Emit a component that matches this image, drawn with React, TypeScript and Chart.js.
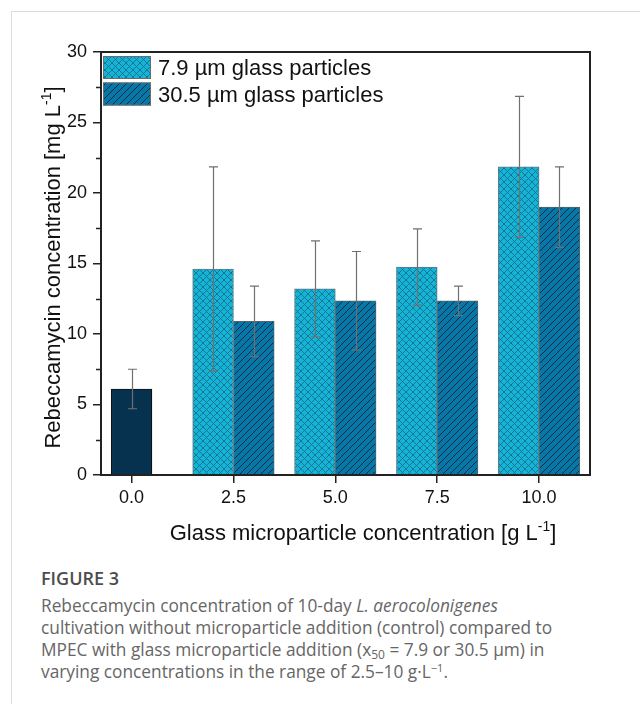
import React, { useEffect, useRef } from "react";
import { Chart, registerables } from "chart.js";

Chart.register(...registerables);

// ---- data ----
const xTickValues = [0, 2.5, 5, 7.5, 10];
const yTickValues = [0, 5, 10, 15, 20, 25, 30];
const yMinorTickValues = [2.5, 7.5, 12.5, 17.5, 22.5, 27.5];

const controlConcentration = [0];
const controlValues = [6.1];
const controlErrors = [1.4];

const concentrations = [2.5, 5.0, 7.5, 10.0];
const fineValues = [14.6, 13.2, 14.75, 21.85];
const fineErrors = [7.25, 3.4, 2.7, 5.0];
const coarseValues = [10.9, 12.35, 12.35, 19.0];
const coarseErrors = [2.5, 3.5, 1.05, 2.85];

const controlLabel = "Control";
const seriesLabels = ["7.9 µm glass particles", "30.5 µm glass particles"];
const xTitle = "Glass microparticle concentration [g L";
const yTitle = "Rebeccamycin concentration [mg L";
const unitSup = "-1";

const FONT = '"Liberation Sans", Arial, sans-serif';

function makeCrossHatch(bg: string, line: string) {
  const s = 7;
  const c = document.createElement("canvas");
  c.width = s;
  c.height = s;
  const g = c.getContext("2d")!;
  g.fillStyle = bg;
  g.fillRect(0, 0, s, s);
  g.strokeStyle = line;
  g.lineWidth = 0.9;
  g.beginPath();
  for (const k of [-s, 0, s]) {
    g.moveTo(k, 0);
    g.lineTo(k + s, s);
    g.moveTo(k, s);
    g.lineTo(k + s, 0);
  }
  g.stroke();
  return g.createPattern(c, "repeat")!;
}

function makeHatch(bg: string, line: string) {
  const s = 7;
  const c = document.createElement("canvas");
  c.width = s;
  c.height = s;
  const g = c.getContext("2d")!;
  g.fillStyle = bg;
  g.fillRect(0, 0, s, s);
  g.strokeStyle = line;
  g.lineWidth = 1;
  g.beginPath();
  for (const k of [-s, 0, s]) {
    g.moveTo(k, s);
    g.lineTo(k + s, 0);
  }
  g.stroke();
  return g.createPattern(c, "repeat")!;
}

const datasetErrors = [controlErrors, fineErrors, coarseErrors];
const datasetValues = [controlValues, fineValues, coarseValues];

const errorBarPlugin = {
  id: "errorBars",
  afterDatasetsDraw(chart: any) {
    const { ctx } = chart;
    const yScale = chart.scales.y;
    ctx.save();
    ctx.strokeStyle = "#707070";
    ctx.lineWidth = 1.2;
    chart.data.datasets.forEach((_: any, di: number) => {
      const meta = chart.getDatasetMeta(di);
      meta.data.forEach((bar: any, j: number) => {
        const v = datasetValues[di][j];
        const e = datasetErrors[di][j];
        const x = Math.round(bar.x) + 0.5;
        const yt = yScale.getPixelForValue(v + e);
        const yb = yScale.getPixelForValue(v - e);
        ctx.beginPath();
        ctx.moveTo(x, yt);
        ctx.lineTo(x, yb);
        ctx.moveTo(x - 4.5, yt);
        ctx.lineTo(x + 4.5, yt);
        ctx.moveTo(x - 4.5, yb);
        ctx.lineTo(x + 4.5, yb);
        ctx.stroke();
      });
    });
    ctx.restore();
  },
};

function drawSupText(ctx: CanvasRenderingContext2D, main: string, sup: string, end: string, size: number) {
  ctx.font = `${size}px ${FONT}`;
  const w1 = ctx.measureText(main).width;
  const w3 = ctx.measureText(end).width;
  ctx.font = `${Math.round(size * 0.65)}px ${FONT}`;
  const w2 = ctx.measureText(sup).width;
  const total = w1 + w2 + w3;
  let x = -total / 2;
  ctx.textAlign = "left";
  ctx.textBaseline = "alphabetic";
  const base = size * 0.36;
  ctx.font = `${size}px ${FONT}`;
  ctx.fillText(main, x, base);
  x += w1;
  ctx.font = `${Math.round(size * 0.65)}px ${FONT}`;
  ctx.fillText(sup, x, base - size * 0.42);
  x += w2;
  ctx.font = `${size}px ${FONT}`;
  ctx.fillText(end, x, base);
}

const framePlugin = {
  id: "frameAndTitles",
  afterDraw(chart: any) {
    const { ctx, chartArea } = chart;
    const yScale = chart.scales.y;
    ctx.save();
    // minor ticks
    ctx.strokeStyle = "#222";
    ctx.lineWidth = 1.5;
    ctx.beginPath();
    yMinorTickValues.forEach((v) => {
      const y = Math.round(yScale.getPixelForValue(v)) + 0.5;
      ctx.moveTo(chartArea.left - 5, y);
      ctx.lineTo(chartArea.left, y);
    });
    ctx.stroke();
    // frame
    ctx.lineWidth = 2;
    ctx.strokeStyle = "#222";
    ctx.strokeRect(chartArea.left, chartArea.top, chartArea.right - chartArea.left, chartArea.bottom - chartArea.top);

    // legend
    [1, 2].forEach((di, k) => {
      const ds = chart.data.datasets[di];
      const x = chartArea.left + 2;
      const y = chartArea.top + 4 + k * 26.5;
      const w = 48;
      const h = 23;
      ctx.fillStyle = ds.backgroundColor;
      ctx.fillRect(x, y, w, h);
      ctx.strokeStyle = "#6b6b6b";
      ctx.lineWidth = 1;
      ctx.strokeRect(x + 0.5, y + 0.5, w - 1, h - 1);
      ctx.fillStyle = "#111";
      ctx.font = `22px ${FONT}`;
      ctx.textAlign = "left";
      ctx.textBaseline = "alphabetic";
      ctx.fillText(ds.label, x + w + 7, y + 19);
    });

    // axis titles
    ctx.fillStyle = "#111";
    ctx.save();
    ctx.translate(363, 532);
    drawSupText(ctx, xTitle, unitSup, "]", 22);
    ctx.restore();
    ctx.save();
    ctx.translate(52, (chartArea.top + chartArea.bottom) / 2 + 4);
    ctx.rotate(-Math.PI / 2);
    drawSupText(ctx, yTitle, unitSup, "]", 22);
    ctx.restore();
    ctx.restore();
  },
};

export default function App() {
  const ref = useRef<HTMLCanvasElement | null>(null);

  useEffect(() => {
    const canvas = ref.current;
    if (!canvas) return;
    const fineP = makeCrossHatch("#12b5d8", "#1a6e8a");
    const coarseP = makeHatch("#0677a6", "#0c2b42");

    const chart = new Chart(canvas, {
      type: "bar",
      data: {
        datasets: [
          {
            label: controlLabel,
            data: controlConcentration.map((x, i) => ({ x, y: controlValues[i] })),
            backgroundColor: "#06324f",
            borderColor: "#111",
            borderWidth: 1.2,
          },
          {
            label: seriesLabels[0],
            data: concentrations.map((c, i) => ({ x: c - 0.5, y: fineValues[i] })),
            backgroundColor: fineP,
            borderColor: "#667a84",
            borderWidth: 1,
          },
          {
            label: seriesLabels[1],
            data: concentrations.map((c, i) => ({ x: c + 0.5, y: coarseValues[i] })),
            backgroundColor: coarseP,
            borderColor: "#55656e",
            borderWidth: 1,
          },
        ] as any,
      },
      options: {
        animation: false,
        responsive: false,
        events: [],
        layout: { padding: { left: 0, top: 52, right: 50, bottom: 0 } },
        datasets: { bar: { grouped: false, barPercentage: 1, categoryPercentage: 1 } } as any,
        plugins: { legend: { display: false }, tooltip: { enabled: false } },
        scales: {
          x: {
            type: "linear",
            min: -0.75,
            max: 11.25,
            offset: false,
            afterBuildTicks: (axis: any) => {
              axis.ticks = xTickValues.map((value) => ({ value }));
            },
            afterFit: (axis: any) => {
              axis.height = 85;
            },
            ticks: {
              callback: (v: any) => Number(v).toFixed(1),
              font: { family: FONT, size: 18 },
              color: "#111",
              padding: 4,
              maxRotation: 0,
              autoSkip: false,
            },
            grid: {
              display: true,
              drawOnChartArea: false,
              drawTicks: true,
              tickLength: 8,
              offset: false,
              color: "#222",
              lineWidth: 1.5,
            },
            border: { display: false },
          },
          y: {
            type: "linear",
            min: 0,
            max: 30,
            afterBuildTicks: (axis: any) => {
              axis.ticks = yTickValues.map((value) => ({ value }));
            },
            afterFit: (axis: any) => {
              axis.width = 101;
            },
            ticks: {
              callback: (v: any) => String(v),
              font: { family: FONT, size: 18 },
              color: "#111",
              padding: 6,
            },
            grid: {
              display: true,
              drawOnChartArea: false,
              drawTicks: true,
              tickLength: 8,
              color: "#222",
              lineWidth: 1.5,
            },
            border: { display: false },
          },
        } as any,
      },
      plugins: [errorBarPlugin, framePlugin],
    });
    return () => chart.destroy();
  }, []);

  const capFont = '"Open Sans", "Noto Sans", sans-serif';
  return (
    <div style={{ position: "absolute", left: 0, top: 0, width: 640, height: 704, background: "#fff", overflow: "hidden" }}>
      <div
        style={{
          position: "absolute",
          left: 11,
          top: 11,
          right: -2,
          bottom: -2,
          borderTop: "1.5px solid #dcdcdc",
          borderLeft: "1.5px solid #dcdcdc",
        }}
      />
      <canvas ref={ref} width={640} height={560} style={{ position: "absolute", left: 0, top: 0 }} />
      <div
        style={{
          position: "absolute",
          left: 41,
          top: 567,
          fontFamily: capFont,
          color: "#666",
          fontSize: 17.3,
          lineHeight: "22px",
          whiteSpace: "nowrap",
        }}
      >
        <div style={{ fontWeight: 600, fontSize: 18, color: "#4d4d4d", marginBottom: 6 }}>FIGURE 3</div>
        <div>
          Rebeccamycin concentration of 10-day <i>L. aerocolonigenes</i>
        </div>
        <div>cultivation without microparticle addition (control) compared to</div>
        <div>
          MPEC with glass microparticle addition (x
          <sub style={{ fontSize: 12, lineHeight: 0, verticalAlign: "-3px" }}>50</sub> = 7.9 or 30.5 µm) in
        </div>
        <div>
          varying concentrations in the range of 2.5–10 g·L
          <sup style={{ fontSize: 11, lineHeight: 0, verticalAlign: "6px" }}>−1</sup>.
        </div>
      </div>
    </div>
  );
}
